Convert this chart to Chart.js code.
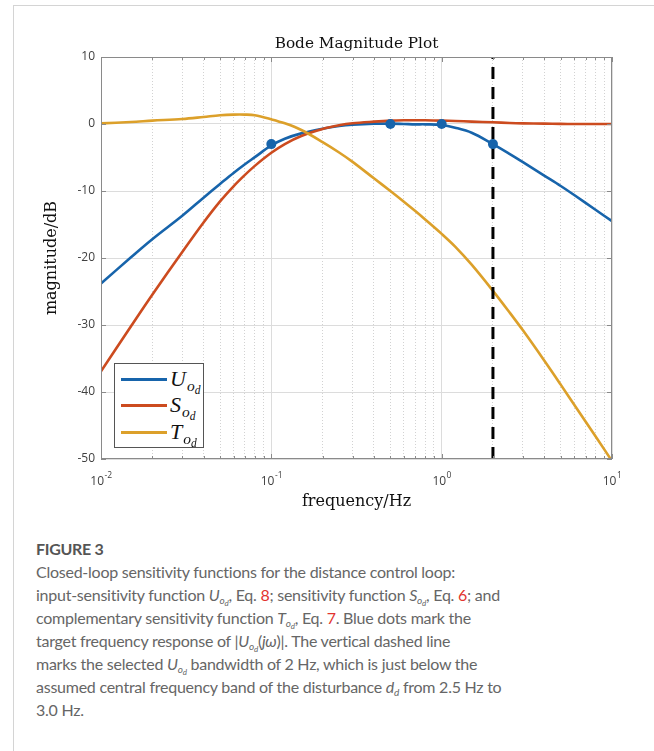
<!DOCTYPE html>
<html>
<head>
<meta charset="utf-8">
<script src="https://cdn.jsdelivr.net/npm/chart.js@4/dist/chart.umd.min.js"></script>
<style>
  html, body { margin: 0; padding: 0; background: #fff; }
  body { width: 654px; height: 751px; position: relative; overflow: hidden; }
  #frame { position: absolute; left: 13px; top: 5px; width: 700px; height: 800px;
           border-left: 1px solid #d4d4d4; border-top: 1px solid #d4d4d4; }
  #wrap { position: absolute; left: 0; top: 0; width: 654px; height: 520px; }
  #legend { position: absolute; left: 114px; top: 363px; width: 90px; height: 85px;
            border: 1px solid #555; background: #fff; box-sizing: border-box; }
  .row { position: absolute; left: 0; width: 89px; height: 26px; }
  .row .ln { position: absolute; left: 6px; width: 46px; height: 3px; top: 12px; }
  .row .lb { position: absolute; left: 55px; top: 0; font-family: 'Liberation Serif', serif;
             font-style: italic; font-size: 22px; line-height: 26px; color: #111; white-space: nowrap; }
  .lb .s1 { font-size: 15.5px; position: relative; top: 5px; margin-left: 1px; }
  .lb .s2 { font-size: 11.5px; position: relative; top: 3px; }
  #cap { position: absolute; left: 36px; top: 0; color: #666; font-family: Lato, 'Open Sans', sans-serif; white-space: nowrap; }
  #cap .fig { position: absolute; top: 537px; font-size: 16px; line-height: 23px; font-weight: bold; color: #555; letter-spacing: -0.3px; }
  #cap .txt { position: absolute; top: 560px; font-size: 16px; line-height: 23px; letter-spacing: -0.25px; }
  #cap sub { font-size: 10px; line-height: 0; vertical-align: -3px; }
  #cap sub sub { font-size: 8px; vertical-align: -2px; }
  #cap .r { color: #e2332f; }
</style>
</head>
<body>
<div id="frame"></div>
<div id="wrap"><canvas id="bode" width="654" height="520"></canvas></div>
<div id="legend">
  <div class="row" style="top:2px"><div class="ln" style="background:#1764ab"></div><div class="lb">U<span class="s1">o<span class="s2">d</span></span></div></div>
  <div class="row" style="top:28px"><div class="ln" style="background:#cc4b1f"></div><div class="lb">S<span class="s1">o<span class="s2">d</span></span></div></div>
  <div class="row" style="top:55px"><div class="ln" style="background:#dca02a"></div><div class="lb">T<span class="s1">o<span class="s2">d</span></span></div></div>
</div>
<div id="cap">
  <div class="fig">FIGURE 3</div>
  <div class="txt">Closed-loop sensitivity functions for the distance control loop:<br>input-sensitivity function <i>U</i><sub><i>o<sub>d</sub></i></sub>, Eq. <span class="r">8</span>; sensitivity function <i>S</i><sub><i>o<sub>d</sub></i></sub>, Eq. <span class="r">6</span>; and<br>complementary sensitivity function <i>T</i><sub><i>o<sub>d</sub></i></sub>, Eq. <span class="r">7</span>. Blue dots mark the<br>target frequency response of |<i>U</i><sub><i>o<sub>d</sub></i></sub>(<i>jω</i>)|. The vertical dashed line<br>marks the selected <i>U</i><sub><i>o<sub>d</sub></i></sub> bandwidth of 2 Hz, which is just below the<br>assumed central frequency band of the disturbance <i>d<sub>d</sub></i> from 2.5 Hz to<br>3.0 Hz.</div>
</div>
<script>
// frequency grid (Hz) and magnitudes (dB)
const freq = [0.01, 0.015, 0.02, 0.03, 0.04, 0.05, 0.06, 0.07, 0.08, 0.1, 0.12, 0.15, 0.2, 0.25, 0.3,
              0.4, 0.5, 0.6, 0.7, 0.8, 1.0, 1.2, 1.5, 2.0, 2.5, 3.0, 4.0, 5.0, 6.0, 8.0, 10.0];
const uMag = [-23.8, -19.9, -17.2, -13.7, -11.0, -8.95, -7.3, -6.0, -4.95, -3.2, -2.2, -1.4, -0.7, -0.3, -0.1,
              0.05, 0.05, 0.0, -0.05, -0.05, -0.15, -0.55, -1.3, -3.0, -4.45, -5.7, -7.7, -9.25, -10.6, -12.8, -14.5];
const sMag = [-36.9, -30.2, -25.5, -19.1, -14.7, -11.55, -9.3, -7.6, -6.25, -4.3, -3.0, -1.8, -0.75, -0.2, 0.1,
              0.35, 0.5, 0.55, 0.55, 0.55, 0.5, 0.45, 0.35, 0.25, 0.15, 0.1, 0.05, 0.02, 0.0, 0.0, 0.0];
const tMag = [0.1, 0.3, 0.5, 0.75, 1.05, 1.3, 1.4, 1.4, 1.3, 0.7, 0.1, -0.9, -2.7, -4.25, -5.65,
              -8.1, -10.0, -11.6, -13.0, -14.25, -16.4, -18.3, -21.0, -24.9, -28.1, -30.8, -35.3, -38.9, -41.9, -46.6, -50.3];
const dotFreq = [0.1, 0.5, 1.0, 2.0];
const dotMag = [-3.0, 0.0, 0.0, -3.0];
const bwFreq = 2;
const yTicks = [10, 0, -10, -20, -30, -40, -50];
const xMajor = [0.01, 0.1, 1, 10];
const xMajorExp = ['-2', '-1', '0', '1'];
const xMinor = [0.02, 0.03, 0.04, 0.05, 0.06, 0.07, 0.08, 0.09,
                0.2, 0.3, 0.4, 0.5, 0.6, 0.7, 0.8, 0.9,
                2, 3, 4, 5, 6, 7, 8, 9];

const BLUE = '#1764ab', RED = '#cc4b1f', GOLD = '#dca02a';
const AXIS = '#8a8a8a', TXT = '#404040';

const pts = (xs, ys) => xs.map((x, i) => ({ x, y: ys[i] }));

const decor = {
  id: 'decor',
  afterDraw(chart) {
    const { ctx, chartArea: a, scales } = chart;
    const sx = scales.x, sy = scales.y;
    ctx.save();
    // box
    ctx.strokeStyle = AXIS;
    ctx.lineWidth = 1;
    ctx.strokeRect(a.left + 0.5, a.top + 0.5, a.right - a.left - 1, a.bottom - a.top - 1);
    // inner ticks
    ctx.beginPath();
    yTicks.forEach(v => {
      const p = Math.round(sy.getPixelForValue(v)) + 0.5;
      ctx.moveTo(a.left, p); ctx.lineTo(a.left + 5, p);
      ctx.moveTo(a.right, p); ctx.lineTo(a.right - 5, p);
    });
    xMajor.forEach(v => {
      const p = Math.round(sx.getPixelForValue(v)) + 0.5;
      ctx.moveTo(p, a.bottom); ctx.lineTo(p, a.bottom - 5);
      ctx.moveTo(p, a.top); ctx.lineTo(p, a.top + 5);
    });
    xMinor.forEach(v => {
      const p = Math.round(sx.getPixelForValue(v)) + 0.5;
      ctx.moveTo(p, a.bottom); ctx.lineTo(p, a.bottom - 3);
      ctx.moveTo(p, a.top); ctx.lineTo(p, a.top + 3);
    });
    ctx.stroke();

    // y tick labels
    ctx.fillStyle = TXT;
    ctx.font = '12px "Open Sans", sans-serif';
    ctx.textAlign = 'right';
    ctx.textBaseline = 'middle';
    yTicks.forEach(v => ctx.fillText(String(v), a.left - 6, sy.getPixelForValue(v)));

    // x tick labels 10^n
    xMajor.forEach((v, i) => {
      const p = sx.getPixelForValue(v);
      ctx.font = '12px "Open Sans", sans-serif';
      const wb = ctx.measureText('10').width;
      ctx.font = '8.5px "Open Sans", sans-serif';
      const we = ctx.measureText(xMajorExp[i]).width;
      const x0 = p - (wb + we) / 2;
      ctx.textAlign = 'left';
      ctx.font = '12px "Open Sans", sans-serif';
      ctx.fillText('10', x0, a.bottom + 23);
      ctx.font = '8.5px "Open Sans", sans-serif';
      ctx.fillText(xMajorExp[i], x0 + wb + 0.5, a.bottom + 17);
    });

    // titles
    ctx.fillStyle = '#111';
    ctx.textAlign = 'center';
    ctx.font = '15.3px "DejaVu Serif", serif';
    ctx.fillText('Bode Magnitude Plot', (a.left + a.right) / 2, a.top - 13);
    ctx.font = '16px "DejaVu Serif", serif';
    ctx.fillText('frequency/Hz', (a.left + a.right) / 2, a.bottom + 43);
    ctx.translate(52, (a.top + a.bottom) / 2);
    ctx.rotate(-Math.PI / 2);
    ctx.fillText('magnitude/dB', 0, 0);
    ctx.restore();
  }
};

const curve = { borderWidth: 2.6, pointRadius: 0, tension: 0.35 };

new Chart(document.getElementById('bode'), {
  type: 'line',
  data: {
    datasets: [
      { label: 'dots', data: pts(dotFreq, dotMag), showLine: false, pointRadius: 5,
        pointBackgroundColor: BLUE, pointBorderWidth: 0, order: 0 },
      { label: 'bandwidth', data: [{ x: bwFreq, y: -50 }, { x: bwFreq, y: 10 }], borderColor: '#000',
        borderWidth: 3, borderDash: [12, 8], pointRadius: 0, order: 1 },
      { label: 'T', data: pts(freq, tMag), borderColor: GOLD, ...curve, order: 2 },
      { label: 'S', data: pts(freq, sMag), borderColor: RED, ...curve, order: 3 },
      { label: 'U', data: pts(freq, uMag), borderColor: BLUE, ...curve, order: 4 }
    ]
  },
  options: {
    responsive: false,
    animation: false,
    devicePixelRatio: 1,
    layout: { padding: { left: 101, right: 42, top: 57, bottom: 61 } },
    plugins: { legend: { display: false }, tooltip: { enabled: false }, title: { display: false } },
    scales: {
      x: {
        type: 'logarithmic', min: 0.01, max: 10,
        afterBuildTicks: s => { s.ticks = xMajor.map(value => ({ value })); },
        ticks: { display: false },
        grid: { color: '#dcdcdc', drawTicks: false },
        border: { display: false }
      },
      xm: {
        type: 'logarithmic', position: 'bottom', min: 0.01, max: 10,
        afterBuildTicks: s => { s.ticks = xMinor.map(value => ({ value })); },
        ticks: { display: false },
        grid: { color: '#d2d2d2', drawTicks: false },
        border: { display: false, dash: [1, 2] }
      },
      y: {
        min: -50, max: 10,
        afterBuildTicks: s => { s.ticks = yTicks.map(value => ({ value })); },
        ticks: { display: false },
        grid: { color: '#dcdcdc', drawTicks: false },
        border: { display: false }
      }
    }
  },
  plugins: [decor]
});
</script>
</body>
</html>
